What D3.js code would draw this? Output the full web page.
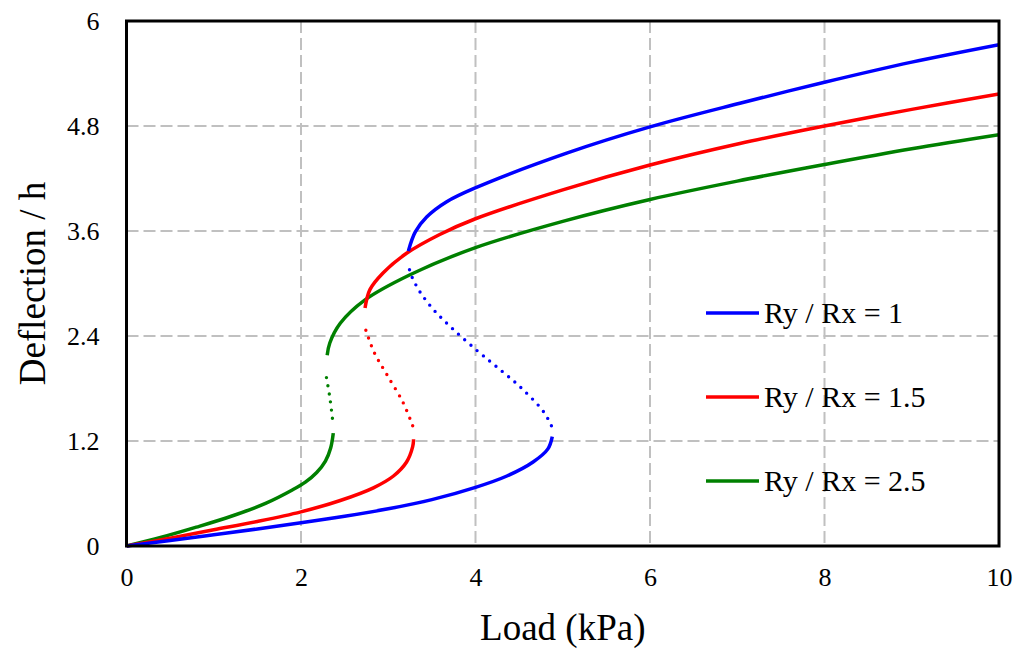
<!DOCTYPE html>
<html><head><meta charset="utf-8">
<script src="https://cdn.jsdelivr.net/npm/d3@7"></script>
<style>html,body{margin:0;padding:0;background:#fff;}svg{display:block;}</style>
</head><body>
<svg id="chart" width="1021" height="652"></svg>
<script>
// ---- data ----
const xTicks = [0, 2, 4, 6, 8, 10];
const yTicks = [0, 1.2, 2.4, 3.6, 4.8, 6];
const yTickLabels = ["0", "1.2", "2.4", "3.6", "4.8", "6"];
const seriesNames = ["Ry / Rx = 1", "Ry / Rx = 1.5", "Ry / Rx = 2.5"];
const seriesColors = ["#0000ff", "#ff0000", "#008000"];

const blueLower = [[0,0],[0.5,0.062],[1.0,0.128],[1.5,0.195],[2.0,0.265],[2.5,0.34],[3.0,0.425],[3.5,0.53],[4.0,0.67],[4.36,0.80],[4.66,0.96],[4.83,1.11],[4.88,1.25]];
const blueUnstable = [[4.87,1.375],[4.78,1.535],[4.51,1.82],[4.24,2.05],[4.01,2.24],[3.73,2.49],[3.52,2.70],[3.36,2.91],[3.27,3.08],[3.24,3.17]];
const blueUpper = [[3.23,3.37],[3.31,3.59],[3.44,3.76],[3.67,3.935],[3.99,4.09],[5.045,4.49],[6.0,4.79],[7.03,5.06],[8.0,5.30],[9.0,5.53],[10.0,5.73]];

const redLower = [[0,0],[0.5,0.09],[1.0,0.185],[1.5,0.28],[2.0,0.39],[2.45,0.52],[2.83,0.665],[3.06,0.80],[3.21,0.96],[3.28,1.135],[3.29,1.22]];
const redUnstable = [[3.28,1.375],[3.17,1.64],[2.98,1.966],[2.84,2.21],[2.74,2.476]];
const redUpper = [[2.734,2.72],[2.79,2.93],[2.94,3.12],[3.21,3.345],[3.59,3.56],[4.0,3.74],[5.0,4.07],[6.0,4.354],[7.03,4.60],[8.0,4.80],[9.0,4.99],[10.0,5.166]];

const greenLower = [[0,0],[0.4,0.10],[0.8,0.215],[1.2,0.34],[1.6,0.49],[1.9,0.64],[2.05,0.73],[2.18,0.84],[2.28,0.97],[2.34,1.12],[2.37,1.29]];
const greenUnstable = [[2.36,1.46],[2.33,1.70],[2.29,1.935]];
const greenUpper = [[2.30,2.18],[2.33,2.32],[2.45,2.545],[2.73,2.81],[3.25,3.10],[4.0,3.41],[5.0,3.71],[6.0,3.96],[7.0,4.17],[8.0,4.36],[9.0,4.54],[10.0,4.70]];

const stableSets = [[blueLower, blueUpper], [redLower, redUpper], [greenLower, greenUpper]];
const unstableSets = [blueUnstable, redUnstable, greenUnstable];

// ---- layout ----
const svg = d3.select("#chart");
const L = 126.5, R = 999, T = 21, B = 546;
const x = d3.scaleLinear().domain([0, 10]).range([L, R]);
const y = d3.scaleLinear().domain([0, 6]).range([B, T]);
const font = "'Liberation Serif', 'DejaVu Serif', serif";

svg.append("rect").attr("width", 1021).attr("height", 652).attr("fill", "#fff");

// grid
const g = svg.append("g");
g.selectAll(".vg").data(xTicks.filter(d => d > 0 && d < 10)).enter().append("line")
  .attr("x1", d => x(d)).attr("x2", d => x(d)).attr("y1", T).attr("y2", B)
  .attr("stroke", "#c0c0c0").attr("stroke-width", 2).attr("stroke-dasharray", "12,5");
g.selectAll(".hg").data(yTicks.filter(d => d > 0 && d < 6)).enter().append("line")
  .attr("y1", d => y(d)).attr("y2", d => y(d)).attr("x1", L).attr("x2", R)
  .attr("stroke", "#c0c0c0").attr("stroke-width", 2).attr("stroke-dasharray", "12,5");

// axes via d3
const xAxis = d3.axisBottom(x).tickValues(xTicks).tickSize(0).tickPadding(22).tickFormat(d3.format("d"));
const xa = svg.append("g").attr("transform", `translate(0,${B})`).call(xAxis);
xa.select(".domain").remove();
xa.selectAll("text").attr("font-family", font).attr("font-size", 26).attr("fill", "#000");

const yAxis = d3.axisLeft(y).tickValues(yTicks).tickSize(0).tickPadding(27).tickFormat((d, i) => yTickLabels[i]);
const ya = svg.append("g").attr("transform", `translate(${L},0)`).call(yAxis);
ya.select(".domain").remove();
ya.selectAll("text").attr("font-family", font).attr("font-size", 26).attr("fill", "#000");

// curves
const line = d3.line().x(d => x(d[0])).y(d => y(d[1])).curve(d3.curveCatmullRom.alpha(0.5));
svg.append("clipPath").attr("id", "pc").append("rect")
  .attr("x", L).attr("y", T - 2).attr("width", R - L).attr("height", B - T + 4);
const curves = svg.append("g").attr("clip-path", "url(#pc)");

unstableSets.forEach((s, i) => {
  curves.append("path").attr("d", line(s)).attr("fill", "none")
    .attr("stroke", seriesColors[i]).attr("stroke-width", 3.4)
    .attr("stroke-linecap", "round").attr("stroke-dasharray", "0,8.2");
});
[2, 1, 0].forEach(i => {
  stableSets[i].forEach(s => {
    curves.append("path").attr("d", line(s)).attr("fill", "none")
      .attr("stroke", seriesColors[i]).attr("stroke-width", 3.5);
  });
});

// frame
svg.append("rect").attr("x", L).attr("y", T).attr("width", R - L).attr("height", B - T)
  .attr("fill", "none").attr("stroke", "#000").attr("stroke-width", 3);

// legend
const legY = [313, 397, 481];
seriesNames.forEach((n, i) => {
  svg.append("line").attr("x1", 706).attr("x2", 759).attr("y1", legY[i]).attr("y2", legY[i])
    .attr("stroke", seriesColors[i]).attr("stroke-width", 3.5);
  svg.append("text").attr("x", 764).attr("y", legY[i] + 10).text(n)
    .attr("font-family", font).attr("font-size", 30).attr("fill", "#000");
});

// axis titles
svg.append("text").attr("x", (L + R) / 2).attr("y", 640).attr("text-anchor", "middle")
  .attr("font-family", font).attr("font-size", 37).attr("fill", "#000").text("Load (kPa)");
svg.append("text").attr("transform", `translate(45,${(T + B) / 2}) rotate(-90)`)
  .attr("text-anchor", "middle").attr("font-family", font).attr("font-size", 37)
  .attr("fill", "#000").text("Deflection / h");
</script>
</body></html>
